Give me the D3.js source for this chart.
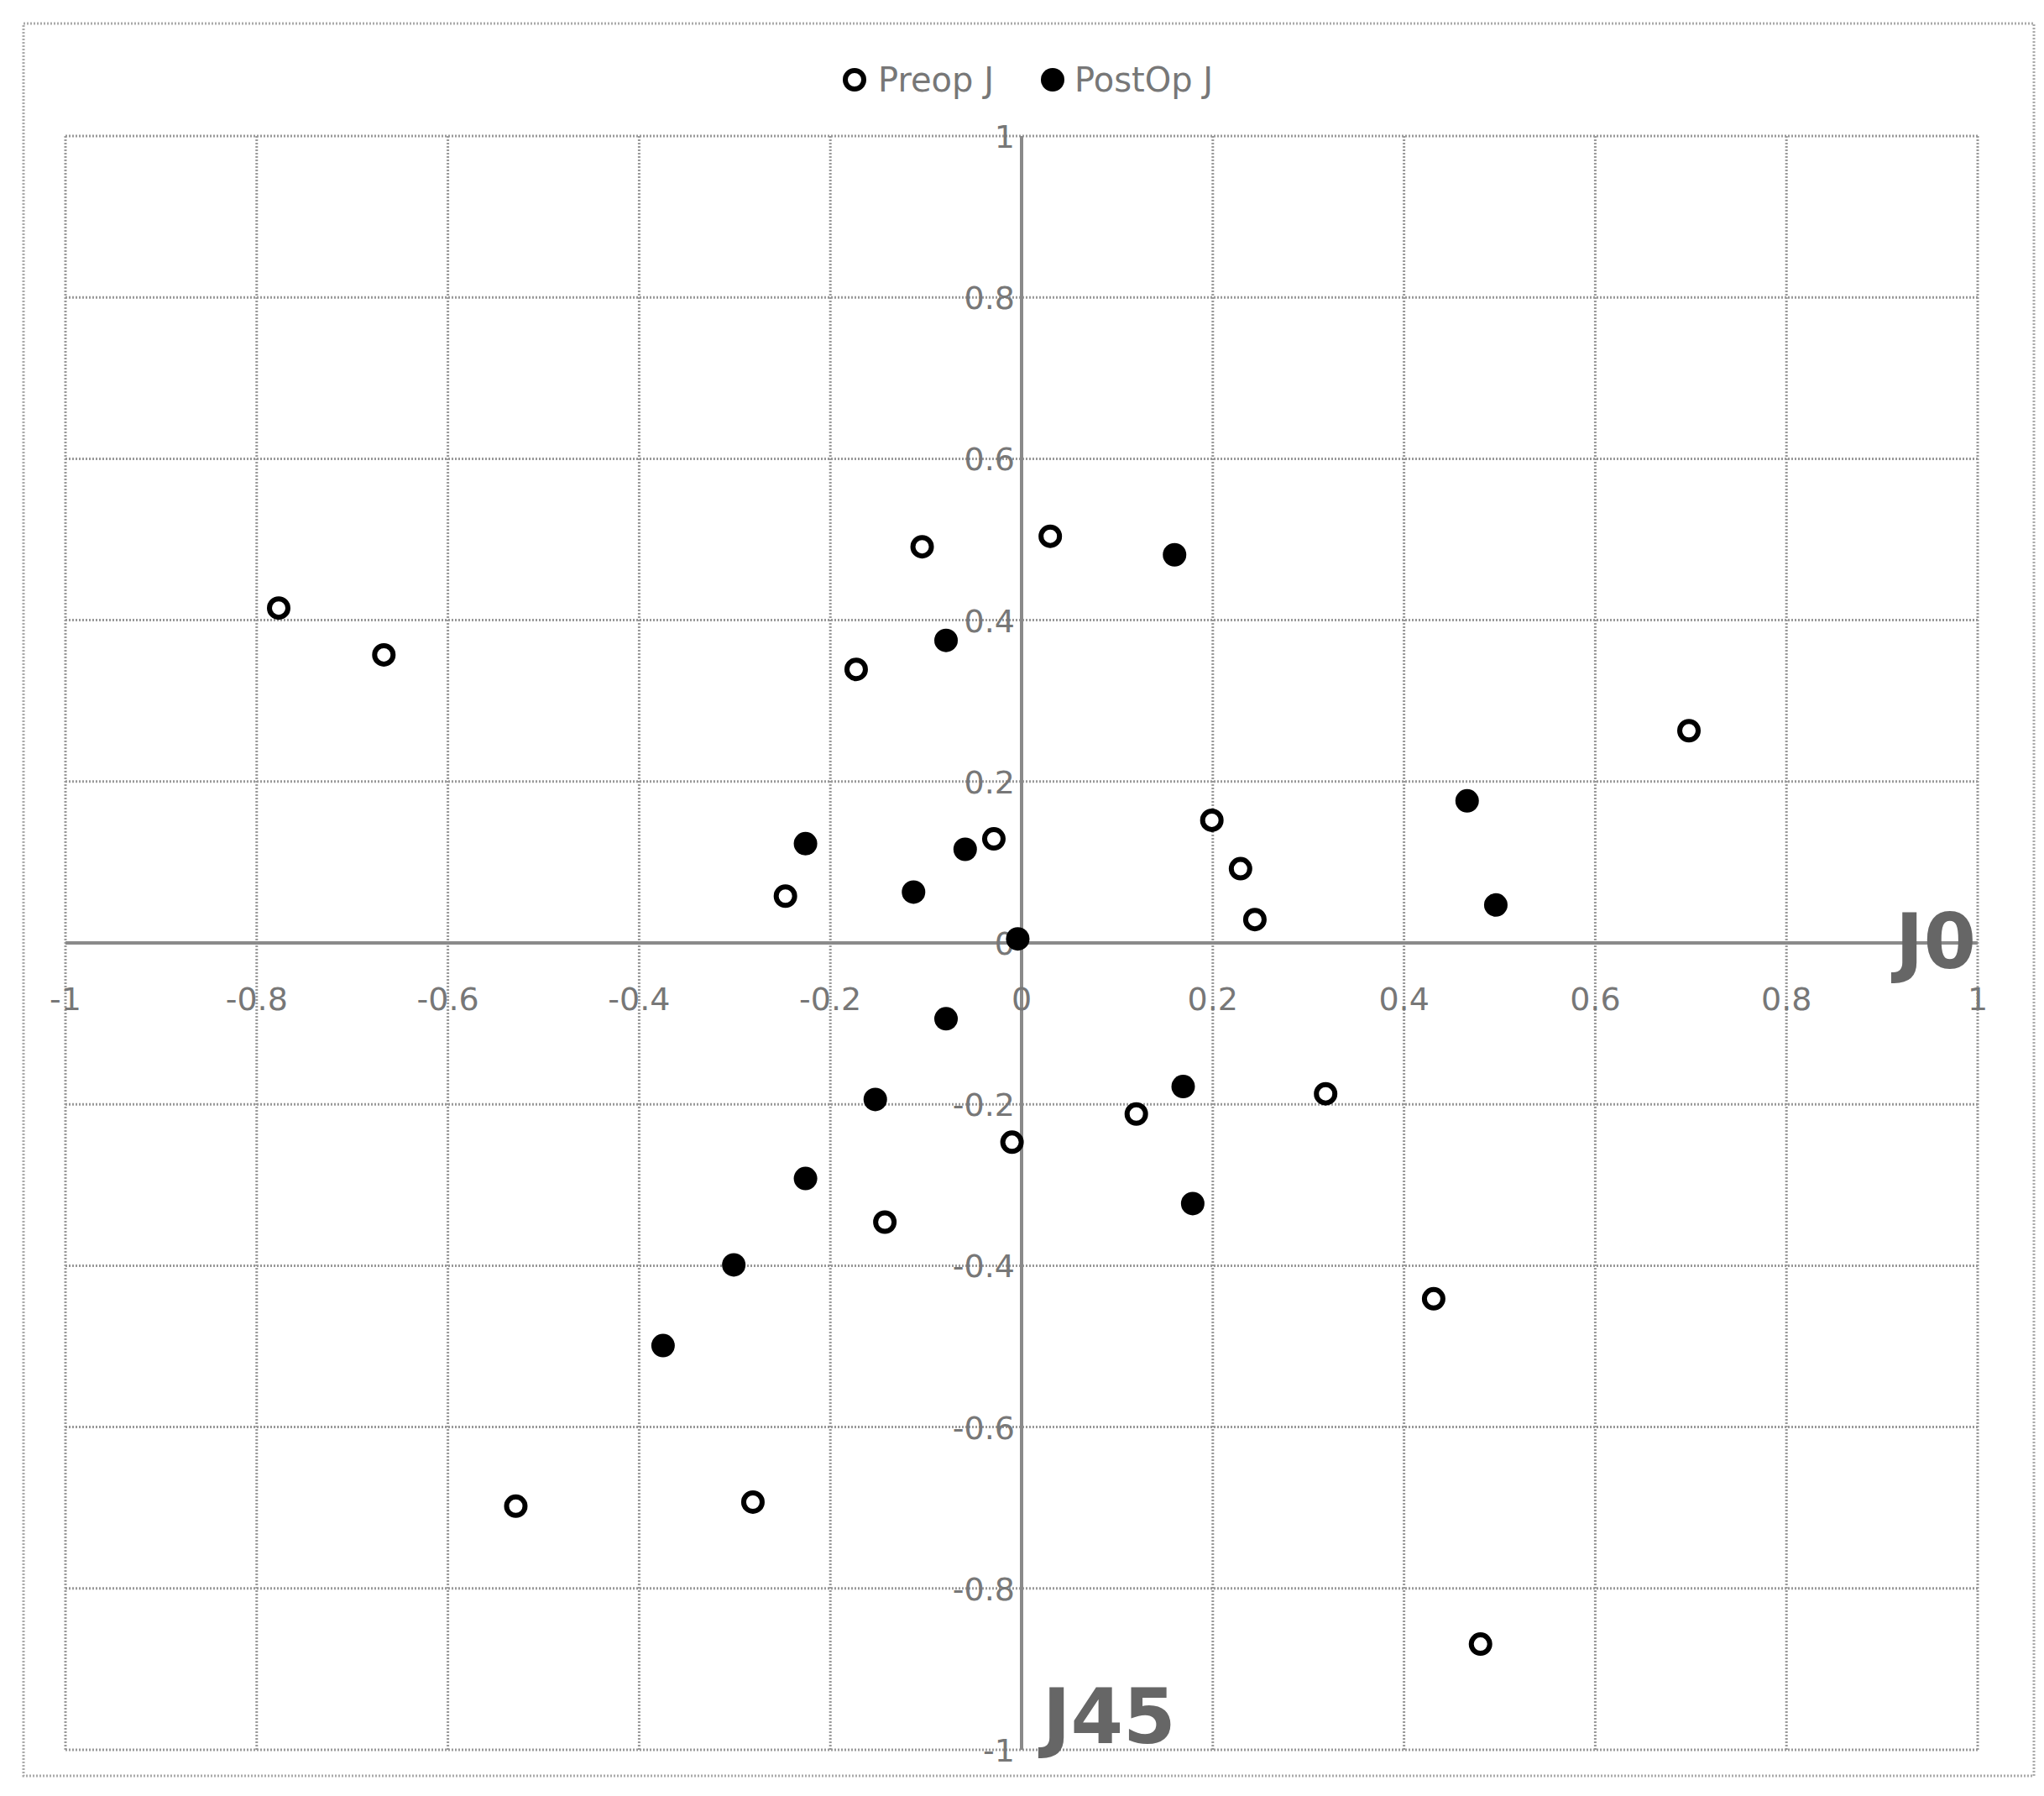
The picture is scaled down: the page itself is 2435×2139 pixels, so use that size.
<!DOCTYPE html>
<html><head><meta charset="utf-8">
<script src="https://cdn.jsdelivr.net/npm/d3@7"></script>
<style>body{margin:0;background:#fff}</style>
</head><body>
<svg id="chart" width="2435" height="2139"></svg>
<script>
var TICKS = [-1, -0.8, -0.6, -0.4, -0.2, 0, 0.2, 0.4, 0.6, 0.8, 1];
var PREOP_X = [-0.777, -0.667, -0.104, 0.030, -0.173, 0.698, 0.199, -0.029, 0.229, -0.247, 0.244, 0.318, 0.120, -0.010, -0.143, 0.431, -0.529, -0.281, 0.480];
var PREOP_Y = [0.415, 0.357, 0.491, 0.504, 0.339, 0.263, 0.152, 0.129, 0.092, 0.058, 0.029, -0.187, -0.212, -0.247, -0.346, -0.441, -0.698, -0.693, -0.869];
var POSTOP_X = [0.160, -0.079, 0.466, -0.226, -0.059, -0.113, 0.496, -0.004, -0.079, 0.169, -0.153, -0.226, 0.179, -0.301, -0.375];
var POSTOP_Y = [0.481, 0.375, 0.176, 0.123, 0.116, 0.063, 0.047, 0.005, -0.094, -0.178, -0.194, -0.292, -0.323, -0.399, -0.499];
var SERIES = ["Preop J", "PostOp J"];

var svg = d3.select("#chart");
var pLeft = 78, pRight = 2356, pTop = 162, pBottom = 2084;
var x = d3.scaleLinear().domain([-1, 1]).range([pLeft, pRight]);
var y = d3.scaleLinear().domain([-1, 1]).range([pBottom, pTop]);
var grey = "#8a8a8a";

svg.append("rect").attr("x", 28).attr("y", 28).attr("width", 2395).attr("height", 2087)
  .attr("fill", "none").attr("stroke", "#aaa").attr("stroke-width", 3).attr("stroke-dasharray", "2,2");

var grid = svg.append("g").attr("stroke", "#999").attr("stroke-width", 3).attr("stroke-dasharray", "2,2");
TICKS.forEach(function(t) {
  grid.append("line").attr("x1", x(t)).attr("x2", x(t)).attr("y1", pTop).attr("y2", pBottom);
  grid.append("line").attr("y1", y(t)).attr("y2", y(t)).attr("x1", pLeft).attr("x2", pRight);
});

// axes through zero
svg.append("line").attr("x1", pLeft).attr("x2", pRight).attr("y1", y(0)).attr("y2", y(0)).attr("stroke", grey).attr("stroke-width", 4);
svg.append("line").attr("x1", x(0)).attr("x2", x(0)).attr("y1", pTop).attr("y2", pBottom).attr("stroke", grey).attr("stroke-width", 4);

var font = "'DejaVu Sans', sans-serif";
svg.append("g").selectAll("text").data(TICKS).enter().append("text")
  .attr("x", function(d) { return x(d); }).attr("y", y(0) + 80)
  .attr("text-anchor", "middle").attr("font-family", font).attr("font-size", 38).attr("fill", "#777")
  .text(function(d) { return d; });
svg.append("g").selectAll("text").data(TICKS).enter().append("text")
  .attr("x", x(0) - 8).attr("y", function(d) { return y(d) + 14; })
  .attr("text-anchor", "end").attr("font-family", font).attr("font-size", 38).attr("fill", "#777")
  .text(function(d) { return d; });

svg.append("text").attr("x", pRight - 2).attr("y", y(0) + 30).attr("text-anchor", "end")
  .attr("font-family", font).attr("font-weight", "bold").attr("font-size", 90).attr("fill", "#666").text("J0");
svg.append("text").attr("x", x(0) + 25).attr("y", pBottom - 8)
  .attr("font-family", font).attr("font-weight", "bold").attr("font-size", 90).attr("fill", "#666").text("J45");

var pre = d3.zip(PREOP_X, PREOP_Y), post = d3.zip(POSTOP_X, POSTOP_Y);
svg.append("g").selectAll("circle").data(pre).enter().append("circle")
  .attr("cx", function(d) { return x(d[0]); }).attr("cy", function(d) { return y(d[1]); })
  .attr("r", 11).attr("fill", "#fff").attr("stroke", "#000").attr("stroke-width", 6);
svg.append("g").selectAll("circle").data(post).enter().append("circle")
  .attr("cx", function(d) { return x(d[0]); }).attr("cy", function(d) { return y(d[1]); })
  .attr("r", 14).attr("fill", "#000");

// legend
var lg = svg.append("g").attr("transform", "translate(1018,95)");
lg.append("circle").attr("cx", 0).attr("cy", 0).attr("r", 11).attr("fill", "#fff").attr("stroke", "#000").attr("stroke-width", 6);
lg.append("text").attr("x", 28).attr("y", 14).attr("font-family", font).attr("font-size", 40).attr("fill", "#777").text(SERIES[0]);
lg.append("circle").attr("cx", 236).attr("cy", 0).attr("r", 14).attr("fill", "#000");
lg.append("text").attr("x", 262).attr("y", 14).attr("font-family", font).attr("font-size", 40).attr("fill", "#777").text(SERIES[1]);
</script>
</body></html>
